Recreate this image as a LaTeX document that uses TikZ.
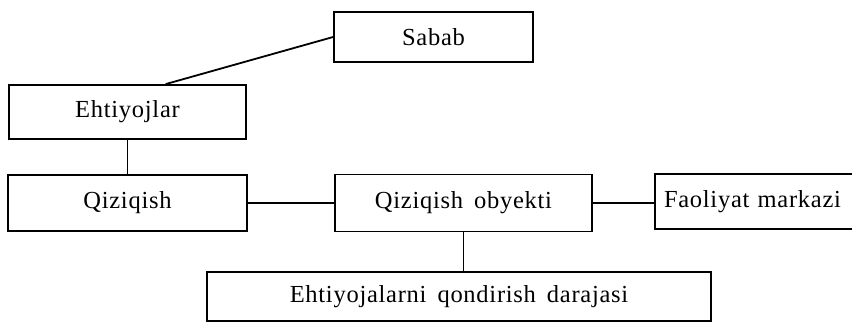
\documentclass[tikz,border=0pt]{standalone}
\usepackage{fontspec}
\setmainfont{Liberation Serif}[LetterSpace=3,WordSpace=1.6]
\usetikzlibrary{calc}
\begin{document}
\begin{tikzpicture}[x=1pt,y=-1pt,
  box/.style={draw, line width=1.8pt, inner sep=0pt, anchor=center,
    font=\fontsize{24.5}{28}\selectfont},
  link/.style={line width=1.8pt}]
\useasboundingbox (0,0) rectangle (852,324);
\node[box, minimum width=199pt, minimum height=50pt] (S) at (433.5,37) {Sabab};
\node[box, minimum width=237pt, minimum height=54pt] (E) at (127.5,112) {Ehtiyojlar};
\node[box, minimum width=239pt, minimum height=56pt] (Q) at (127.5,203) {Qiziqish};
\node[box, minimum width=257pt, minimum height=57pt] (O) at (463.5,203) {Qiziqish obyekti};
\node[box, minimum width=206pt, minimum height=55pt, text width=200pt, align=left] (F) at (758,201.5) {\hspace*{6pt}Faoliyat markazi};
\node[box, minimum width=504pt, minimum height=49pt] (D) at (459,296.5) {Ehtiyojalarni qondirish darajasi};
\coordinate (Etop) at ($(E.north west)!0.66!(E.north east)$);
\draw[link] (Etop) -- (S.west);
\draw[link] (E.south) -- (Q.north);
\draw[link] (Q.east) -- (Q.east -| O.west);
\draw[link] (O.east) -- (O.east -| F.west);
\draw[link] (O.south) -- (O.south |- D.north);
\end{tikzpicture}
\end{document}
